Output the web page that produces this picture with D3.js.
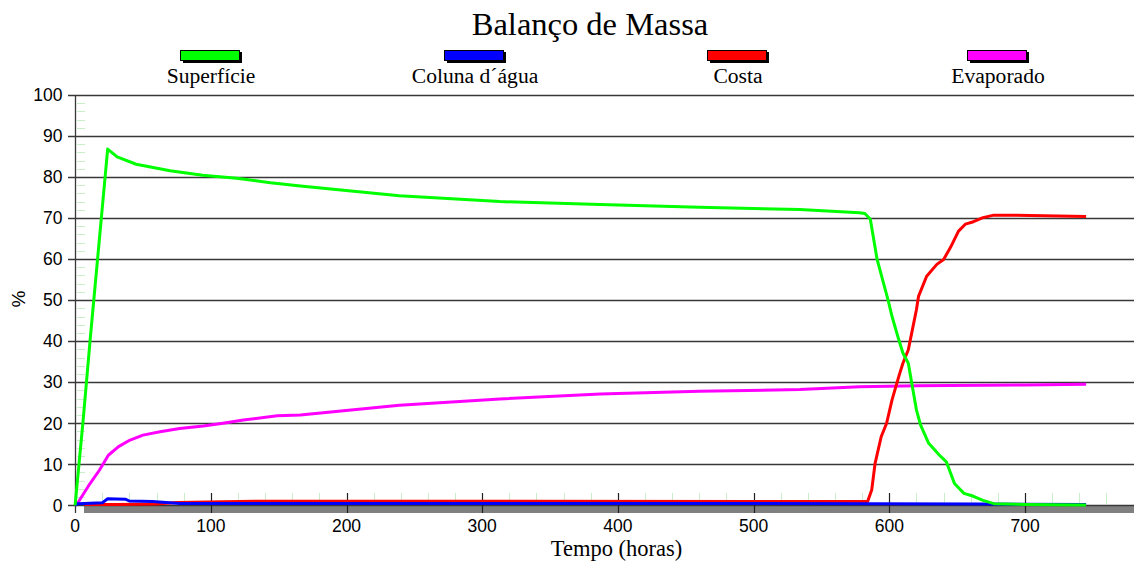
<!DOCTYPE html>
<html><head><meta charset="utf-8">
<script src="https://cdn.jsdelivr.net/npm/d3@7"></script>
<style>body{margin:0;background:#fff}svg{display:block}</style>
</head><body>
<svg id="c" width="1134" height="561"></svg>
<script>
const chartTitle = "Balanço de Massa";
const seriesNames = ["Superfície", "Coluna d´água", "Costa", "Evaporado"];
const seriesColors = ["#00ff00", "#0000ff", "#ff0000", "#ff00ff"];
const yTicks = [0,10,20,30,40,50,60,70,80,90,100];
const xTicks = [0,100,200,300,400,500,600,700];

const superficieT = [0,6,11,24,31,45,70,94,119,144,166,239,313,387,460,534,578,582,586,591,599,602,607,610,614,617,620,623,629,637,642,648,655,662,669,677,700,745];
const superficieV = [0,21,40,86.8,84.9,83.1,81.5,80.4,79.7,78.6,77.8,75.4,74.0,73.3,72.6,72.1,71.3,71.1,69.7,59.9,50.1,46,40.3,37.1,34.6,28.9,23.2,19.6,15.1,12.2,10.6,5.3,2.9,2.2,1.2,0.4,0.2,0.1];

const colunaT = [0,2,20,24,37,40,57,77,300,585,670,745];
const colunaV = [0,0.4,0.6,1.6,1.5,1.05,0.9,0.45,0.45,0.4,0.3,0.2];

const costaT = [7,30,60,75,132,584,587,589.5,594,598,602,607,610,614,617,620,621.5,627.5,635,640,645,651,656,662,669,677,691,745];
const costaV = [0.2,0.2,0.3,0.7,1.0,0.9,3.7,10.2,16.7,20,25.7,31.4,34.6,37.9,42.8,47.7,50.9,55.8,58.7,59.9,62.8,66.8,68.5,69.1,70.1,70.7,70.7,70.4];

const evapT = [0,2.4,11,18,24.5,32,40.5,50,62.6,77,94.5,109,124,149,166,239,313,387,460,534,578,620,700,745];
const evapV = [0,0.8,5.3,8.6,12.2,14.3,15.9,17.1,17.9,18.7,19.3,20,20.8,21.8,22.0,24.4,25.9,27.1,27.8,28.2,28.9,29.1,29.3,29.5];

const svg = d3.select("#c");
const x = d3.scaleLinear().domain([0, 780.3]).range([75.1, 1134]);
const y = d3.scaleLinear().domain([0, 100]).range([505.3, 94.9]);
const serif = "'Liberation Serif','Times New Roman',serif";
const sans = "'Liberation Sans',Arial,sans-serif";

// title
svg.append("text").attr("x", 590).attr("y", 35).attr("text-anchor","middle")
  .attr("font-family",serif).attr("font-size",32.5)
  .attr("fill","#000").text(chartTitle);

// legend
const legCx = [210, 474, 737, 997];
seriesNames.forEach((n,i)=>{
  const g = svg.append("g");
  g.append("rect").attr("x", legCx[i]-29+2).attr("y", 52).attr("width", 59).attr("height", 11).attr("fill","#000");
  g.append("rect").attr("x", legCx[i]-29.5).attr("y", 50.5).attr("width", 59).attr("height", 10).attr("fill", seriesColors[i]).attr("stroke","#000").attr("stroke-width",1);
  g.append("text").attr("x", legCx[i]+1).attr("y", 83).attr("text-anchor","middle")
    .attr("font-family",serif).attr("font-size",21.6).attr("fill","#000").text(n);
});

// minor y ticks (light green)
const minorY = d3.range(2, 100, 2).filter(v => v % 10 !== 0);
svg.append("g").selectAll("line").data(minorY).join("line")
  .attr("x1", 77).attr("x2", 85).attr("y1", d=>Math.round(y(d))+0.5).attr("y2", d=>Math.round(y(d))+0.5)
  .attr("stroke","#c8efc8").attr("stroke-width",1);

// minor x ticks
const minorX = d3.range(20, 781, 20).filter(v => v % 100 !== 0);
svg.append("g").selectAll("line").data(minorX).join("line")
  .attr("x1", d=>Math.round(x(d))+0.5).attr("x2", d=>Math.round(x(d))+0.5).attr("y1", 493).attr("y2", 504)
  .attr("stroke","#c8efc8").attr("stroke-width",1);

// gray band under axis
svg.append("rect").attr("x", 84).attr("y", 506).attr("width", 1134-84).attr("height", 7).attr("fill","#808080");

// gridlines + y ticks
svg.append("g").selectAll("line").data(yTicks).join("line")
  .attr("x1", 68).attr("x2", 1134).attr("y1", d=>Math.round(y(d))+0.5).attr("y2", d=>Math.round(y(d))+0.5)
  .attr("stroke","#383838").attr("stroke-width",1.3);

// y axis line
svg.append("line").attr("x1",75.5).attr("x2",75.5).attr("y1",y(100)).attr("y2",513).attr("stroke","#383838").attr("stroke-width",1.3);

// major x ticks
svg.append("g").selectAll("line").data(xTicks.filter(d=>d>0)).join("line")
  .attr("x1", d=>Math.round(x(d))+0.5).attr("x2", d=>Math.round(x(d))+0.5).attr("y1", 493).attr("y2", 513)
  .attr("stroke","#202020").attr("stroke-width",1.2);

// y labels
svg.append("g").selectAll("text").data(yTicks).join("text")
  .attr("x", 62.5).attr("y", d=>y(d)).attr("dy","0.36em").attr("text-anchor","end")
  .attr("font-family",sans).attr("font-size",17.5).attr("fill","#000").text(d=>d);

// x labels
svg.append("g").selectAll("text").data(xTicks).join("text")
  .attr("x", d=>x(d)).attr("y", 532).attr("text-anchor","middle")
  .attr("font-family",sans).attr("font-size",17.5).attr("fill","#000").text(d=>d);

// axis titles
svg.append("text").attr("transform","translate(25,299) rotate(-90)").attr("text-anchor","middle")
  .attr("font-family",sans).attr("font-size",19).attr("fill","#000").text("%");
svg.append("text").attr("x", 616.5).attr("y", 556).attr("text-anchor","middle")
  .attr("font-family",serif).attr("font-size",22.5).attr("fill","#000").text("Tempo (horas)");

// series
const line = d3.line().x(d=>x(d[0])).y(d=>y(d[1]));
const series = [
  {t: evapT, v: evapV, c: seriesColors[3]},
  {t: costaT, v: costaV, c: seriesColors[2]},
  {t: colunaT, v: colunaV, c: seriesColors[1]},
  {t: superficieT, v: superficieV, c: seriesColors[0]}
];
series.forEach(s=>{
  svg.append("path").datum(d3.zip(s.t, s.v)).attr("d", line)
    .attr("fill","none").attr("stroke", s.c).attr("stroke-width",3).attr("stroke-linejoin","round");
});
</script>
</body></html>
